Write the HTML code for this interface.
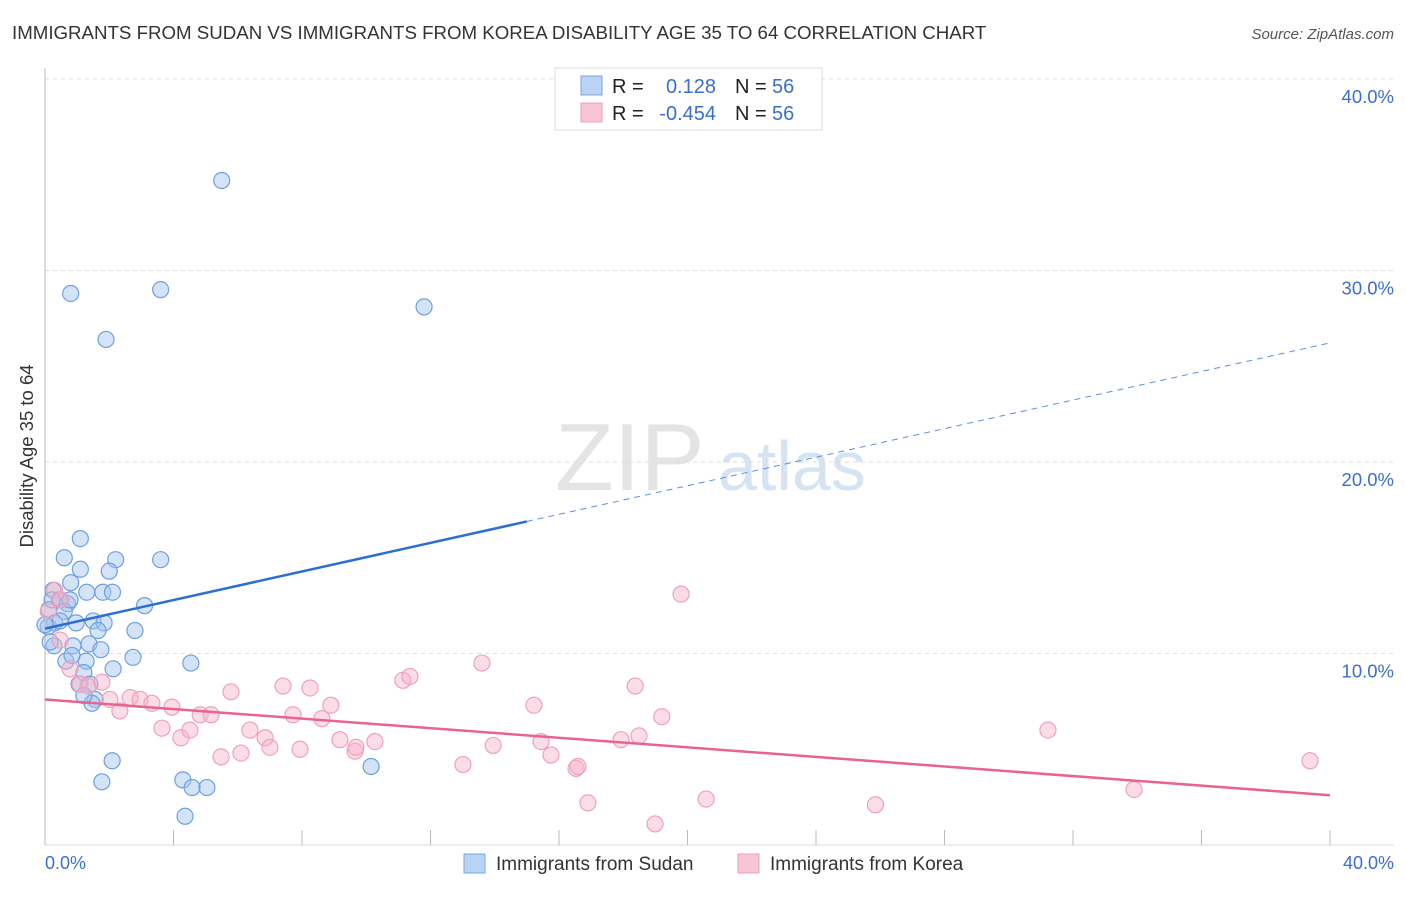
<!DOCTYPE html>
<html><head><meta charset="utf-8"><style>
body{margin:0;background:#fff;font-family:"Liberation Sans",sans-serif}
svg text{font-family:"Liberation Sans",sans-serif}
</style></head><body>
<svg id="chart" width="1406" height="892">
<text x="12" y="39" font-size="18.7" fill="#333">IMMIGRANTS FROM SUDAN VS IMMIGRANTS FROM KOREA DISABILITY AGE 35 TO 64 CORRELATION CHART</text>
<text x="1394" y="39" font-size="15" fill="#555" font-style="italic" text-anchor="end">Source: ZipAtlas.com</text>
<text x="555" y="490" font-size="96" fill="#e4e4e4" font-family="Liberation Serif">ZIP</text>
<text x="718" y="490" font-size="70" fill="#d5e3f3">atlas</text>
<g id="grid"></g>
<g id="axes"></g>
<g id="pts"></g>
<g id="lines"></g>
<text transform="translate(33,456) rotate(-90)" font-size="18.5" fill="#333" text-anchor="middle">Disability Age 35 to 64</text>
<text x="45" y="869" font-size="18" fill="#3a6fd0">0.0%</text>
<text x="1394" y="869" font-size="18" fill="#3a6fd0" text-anchor="end">40.0%</text>
<g>
<rect x="555" y="68" width="267" height="62" fill="#fff" stroke="#ddd"/>
<rect x="581" y="76" width="21" height="19" fill="#b8d3f5" stroke="#7aa6e0"/>
<rect x="581" y="103" width="21" height="19" fill="#f9c4d4" stroke="#eea0b8"/>
<text x="612" y="93" font-size="20" fill="#222">R =</text><text x="716" y="93" font-size="20" fill="#3a6fd0" text-anchor="end">0.128</text>
<text x="735" y="93" font-size="20" fill="#222">N =</text><text x="772" y="93" font-size="20" fill="#3a6fd0">56</text>
<text x="612" y="120" font-size="20" fill="#222">R =</text><text x="716" y="120" font-size="20" fill="#3a6fd0" text-anchor="end">-0.454</text>
<text x="735" y="120" font-size="20" fill="#222">N =</text><text x="772" y="120" font-size="20" fill="#3a6fd0">56</text>
</g>
<g>
<rect x="464" y="854" width="21" height="19" fill="#b8d3f5" stroke="#7aa6e0"/>
<text x="496" y="870" font-size="19" fill="#333">Immigrants from Sudan</text>
<rect x="738" y="854" width="21" height="19" fill="#f9c4d4" stroke="#eea0b8"/>
<text x="770" y="870" font-size="19" fill="#333">Immigrants from Korea</text>
</g>
</svg>
<script>
const yTicks=[10,20,30,40];
const xTicks=[0,4,8,12,16,20,24,28,32,36,40];
const sudanX=[5.5,0.8,3.6,11.8,1.9,1.1,0.6,2.2,3.6,1.1,2.0,0.8,0.25,1.3,1.8,2.1,0.7,0.45,3.1,0.12,0.6,0.3,0.97,1.5,1.84,1.65,2.8,0.1,0.28,1.37,1.74,0.87,1.28,0.65,2.74,4.54,1.21,2.12,1.06,1.4,1.56,1.46,2.09,1.77,4.29,4.58,5.04,4.36,10.15,0.16,0.47,0.22,0.84,0.78,0.0,1.21];
const sudanY=[34.7,28.8,29.0,28.1,26.4,16.0,15.0,14.9,14.9,14.4,14.3,13.7,13.3,13.2,13.2,13.2,12.6,12.8,12.5,12.3,12.2,11.6,11.6,11.7,11.6,11.2,11.2,11.4,10.4,10.5,10.2,10.4,9.6,9.6,9.8,9.5,9.0,9.2,8.4,8.4,7.6,7.4,4.4,3.3,3.4,3.0,3.0,1.5,4.1,10.6,11.7,12.8,9.9,12.8,11.5,7.8];
const koreaX=[0.3,0.5,0.1,0.47,0.78,1.09,1.34,1.77,2.02,2.33,2.65,2.96,3.33,3.64,3.95,4.23,4.51,4.83,5.17,5.48,5.79,6.1,6.38,6.85,7.0,7.41,7.72,7.94,8.25,8.62,8.9,9.18,9.65,9.68,10.27,11.14,11.36,13.01,13.6,13.95,15.22,15.44,15.75,16.53,16.59,16.9,17.93,18.37,18.49,18.99,19.2,19.8,20.58,25.85,31.22,33.9,39.38];
const koreaY=[13.3,12.8,12.2,10.7,9.2,8.4,8.3,8.5,7.6,7.0,7.7,7.6,7.4,6.1,7.2,5.6,6.0,6.8,6.8,4.6,8.0,4.8,6.0,5.6,5.1,8.3,6.8,5.0,8.2,6.6,7.3,5.5,4.9,5.1,5.4,8.6,8.8,4.2,9.5,5.2,7.3,5.4,4.7,4.0,4.1,2.2,5.5,8.3,5.7,1.1,6.7,13.1,2.4,2.1,6.0,2.9,4.4];
const sudanTrend=[11.3,0.373];
const koreaTrend=[7.6,-0.125];
const X0=45,X1=1330,Y0=845,Y40=79;
const sx=v=>X0+(X1-X0)*v/40, sy=v=>Y0-(Y0-Y40)*v/40;
const NS='http://www.w3.org/2000/svg';
function mk(tag,attrs,parent){const e=document.createElementNS(NS,tag);for(const k in attrs)e.setAttribute(k,attrs[k]);document.getElementById(parent).appendChild(e);return e;}
yTicks.forEach(t=>{
 const l=mk('line',{x1:45,x2:1394,y1:sy(t),y2:sy(t),stroke:'#ddd','stroke-dasharray':'4,4'},'grid');
 
 
 const tx=mk('text',{x:1394,y:sy(t)+24,'font-size':18.5,fill:'#3a6fd0','text-anchor':'end'},'grid');
 tx.textContent=t.toFixed(1)+'%';
 
 
});
mk('line',{x1:45,x2:45,y1:68,y2:845,stroke:'#bbb'},'axes');
mk('line',{x1:45,x2:1394,y1:845,y2:845,stroke:'#ddd'},'axes');
xTicks.forEach(t=>{
 const l=mk('line',{x1:sx(t),x2:sx(t),y1:830,y2:845,stroke:'#bbb'},'axes');
 
 
});
sudanX.forEach((v,i)=>{
 const c=mk('circle',{cx:sx(v),cy:sy(sudanY[i]),r:8,fill:'rgba(160,196,240,0.45)',stroke:'#6f9fe0','stroke-width':1.2},'pts');
 
 
});
koreaX.forEach((v,i)=>{
 const c=mk('circle',{cx:sx(v),cy:sy(koreaY[i]),r:8,fill:'rgba(248,180,200,0.45)',stroke:'#f0a0bb','stroke-width':1.2},'pts');
 
 
});
const f=(tr,x)=>tr[0]+tr[1]*x;
let a=mk('line',{x1:sx(0),y1:sy(f(sudanTrend,0)),x2:sx(15),y2:sy(f(sudanTrend,15)),stroke:'#2a6fd8','stroke-width':2.5},'lines');


a=mk('line',{x1:sx(15),y1:sy(f(sudanTrend,15)),x2:sx(40),y2:sy(f(sudanTrend,40)),stroke:'#5b8fdc','stroke-width':1,'stroke-dasharray':'6,5'},'lines');


a=mk('line',{x1:sx(0),y1:sy(f(koreaTrend,0)),x2:sx(40),y2:sy(f(koreaTrend,40)),stroke:'#e8648f','stroke-width':2.5},'lines');


</script>
</body></html>
